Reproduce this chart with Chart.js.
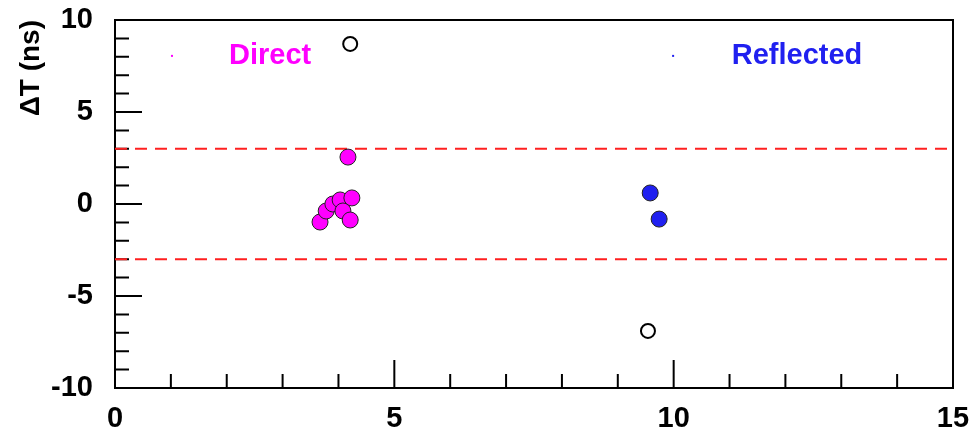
<!DOCTYPE html>
<html>
<head>
<meta charset="utf-8">
<script src="https://cdn.jsdelivr.net/npm/chart.js@4.4.1/dist/chart.umd.min.js"></script>
<style>
  html, body { margin: 0; padding: 0; background: #fff; }
  #wrap { width: 971px; height: 435px; }
</style>
</head>
<body>
<div id="wrap"><canvas id="chart"></canvas></div>
<script>
// Data
const directX = [3.67, 3.78, 3.90, 4.03, 4.24, 4.08, 4.21, 4.17];
const directY = [-0.98, -0.38, 0.00, 0.22, 0.33, -0.38, -0.87, 2.55];
const reflectedX = [9.58, 9.74];
const reflectedY = [0.60, -0.82];
const outlierX = [4.21, 9.54];
const outlierY = [8.70, -6.90];
const cutValues = [3, -3];

const xMajorTicks = [0, 5, 10, 15];
const xMinorTicks = [1, 2, 3, 4, 6, 7, 8, 9, 11, 12, 13, 14];
const yMajorTicks = [-10, -5, 0, 5, 10];
const yMinorTicks = [-9, -8, -7, -6, -4, -3, -2, -1, 1, 2, 3, 4, 6, 7, 8, 9];

const toPoints = (xs, ys) => xs.map((x, i) => ({ x: x, y: ys[i] }));

const FONT = "'Liberation Sans', Arial, Helvetica, sans-serif";
const MAGENTA = '#ff00ff';
const BLUE = '#2020f0';

// Frame, inward ticks and the two text labels (ROOT style)
const rootStyle = {
    id: 'rootStyle',
    beforeDatasetsDraw(chart) {
        const { ctx, chartArea: a, scales } = chart;
        ctx.save();
        ctx.strokeStyle = '#000';
        ctx.lineWidth = 2;
        ctx.strokeRect(a.left, a.top, a.right - a.left, a.bottom - a.top);

        ctx.beginPath();
        xMajorTicks.forEach(v => {
            const px = scales.x.getPixelForValue(v);
            ctx.moveTo(px, a.bottom); ctx.lineTo(px, a.bottom - 28);
        });
        xMinorTicks.forEach(v => {
            const px = scales.x.getPixelForValue(v);
            ctx.moveTo(px, a.bottom); ctx.lineTo(px, a.bottom - 14);
        });
        yMajorTicks.forEach(v => {
            const py = scales.y.getPixelForValue(v);
            ctx.moveTo(a.left, py); ctx.lineTo(a.left + 27, py);
        });
        yMinorTicks.forEach(v => {
            const py = scales.y.getPixelForValue(v);
            ctx.moveTo(a.left, py); ctx.lineTo(a.left + 14, py);
        });
        ctx.stroke();

        // Legend-like labels
        ctx.font = 'bold 29px ' + FONT;
        ctx.textBaseline = 'middle';
        ctx.textAlign = 'left';
        const ly = scales.y.getPixelForValue(8.05);
        ctx.fillStyle = MAGENTA;
        ctx.fillText('Direct', scales.x.getPixelForValue(2.04), ly);
        ctx.fillRect(scales.x.getPixelForValue(1.02) - 1, ly - 1, 2, 2);
        ctx.fillStyle = BLUE;
        ctx.fillText('Reflected', scales.x.getPixelForValue(11.04), ly);
        ctx.fillRect(scales.x.getPixelForValue(9.99) - 1, ly - 1, 2, 2);
        ctx.restore();
    }
};

new Chart(document.getElementById('chart'), {
    type: 'scatter',
    data: {
        datasets: [
            {
                label: 'Direct',
                data: toPoints(directX, directY),
                backgroundColor: MAGENTA,
                borderColor: '#222',
                borderWidth: 1,
                pointRadius: 8
            },
            {
                label: 'Reflected',
                data: toPoints(reflectedX, reflectedY),
                backgroundColor: BLUE,
                borderColor: '#222',
                borderWidth: 1,
                pointRadius: 8
            },
            {
                label: 'Outliers',
                data: toPoints(outlierX, outlierY),
                backgroundColor: '#fff',
                borderColor: '#000',
                borderWidth: 2,
                pointRadius: 7
            },
            ...cutValues.map(c => ({
                label: 'cut ' + c,
                type: 'line',
                data: [{ x: 0, y: c }, { x: 15, y: c }],
                borderColor: '#ff2020',
                borderWidth: 2,
                borderDash: [12, 8],
                pointRadius: 0,
                fill: false
            }))
        ]
    },
    options: {
        responsive: true,
        maintainAspectRatio: false,
        animation: false,
        events: [],
        layout: { padding: { top: 20, right: 18, left: 0, bottom: 0 } },
        plugins: { legend: { display: false }, tooltip: { enabled: false } },
        scales: {
            x: {
                type: 'linear',
                min: 0,
                max: 15,
                afterFit: s => { s.height = 47; s.paddingLeft = 0; s.paddingRight = 0; },
                afterBuildTicks: s => { s.ticks = xMajorTicks.map(v => ({ value: v })); },
                ticks: {
                    font: { family: FONT, size: 29, weight: 'bold' },
                    color: '#000',
                    padding: 14,
                    maxRotation: 0
                },
                grid: { display: false, drawTicks: false },
                border: { display: false }
            },
            y: {
                min: -10,
                max: 10,
                afterFit: s => { s.width = 115; s.paddingTop = 0; s.paddingBottom = 0; },
                afterBuildTicks: s => { s.ticks = yMajorTicks.map(v => ({ value: v })); },
                ticks: {
                    font: { family: FONT, size: 29, weight: 'bold' },
                    color: '#000',
                    padding: 22
                },
                grid: { display: false, drawTicks: false },
                border: { display: false },
                title: {
                    display: true,
                    text: 'ΔT (ns)',
                    align: 'end',
                    color: '#000',
                    font: { family: FONT, size: 28, weight: 'bold' },
                    padding: { top: 14, bottom: 0 }
                }
            }
        }
    },
    plugins: [rootStyle]
});
</script>
</body>
</html>
